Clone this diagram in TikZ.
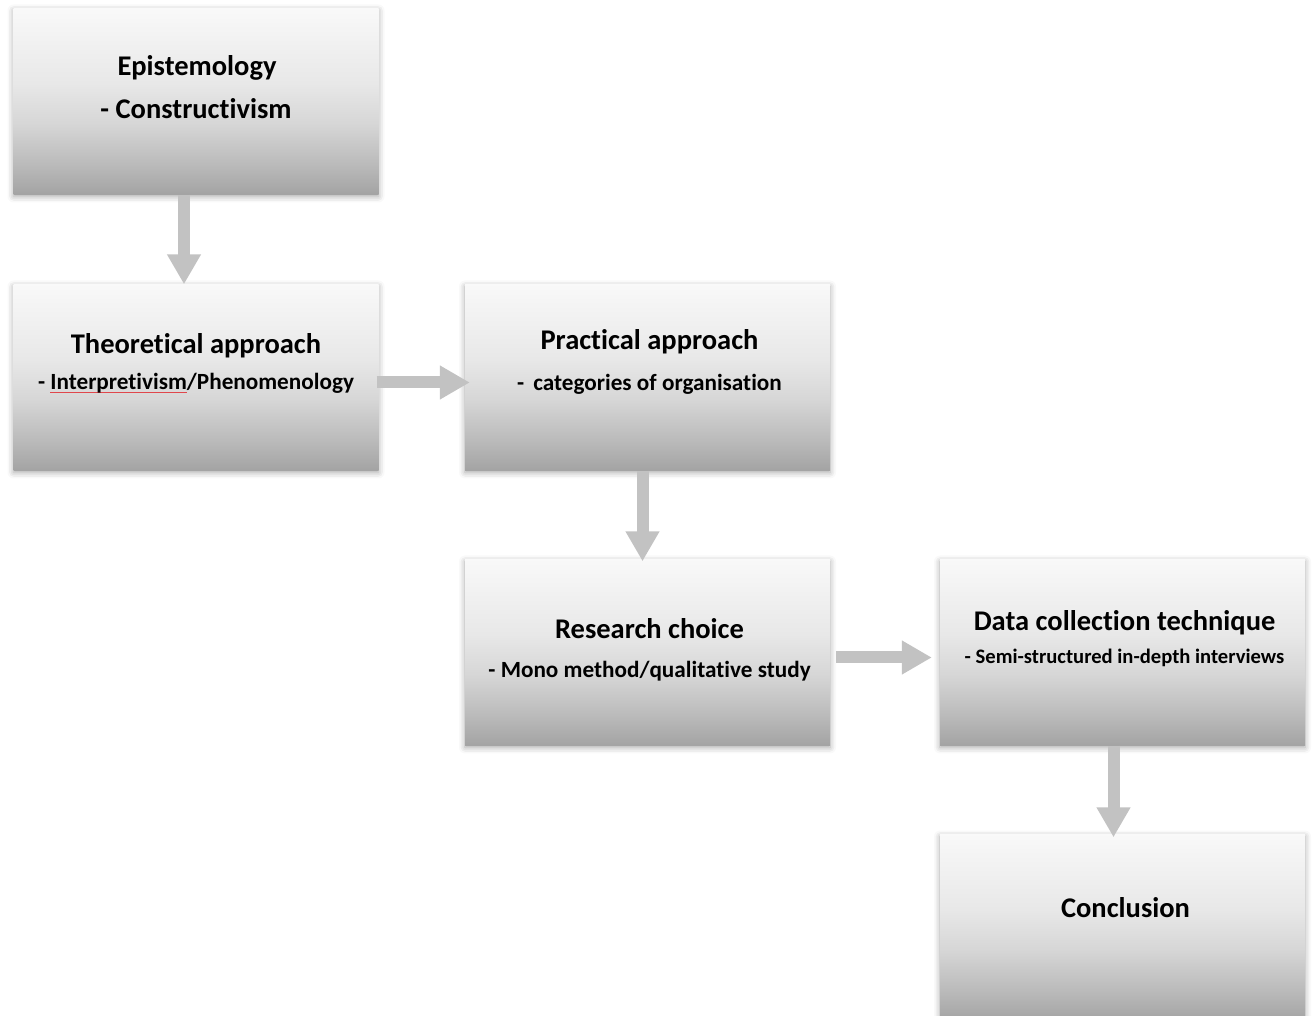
\documentclass[tikz,border=0pt]{standalone}
\usepackage{fontspec}
\setmainfont{Carlito}[Ligatures=NoCommon]
\usetikzlibrary{arrows.meta,shadows.blur,calc}

% vertical grey ramp for the boxes (path occupies 25bp..75bp)
\definecolor{gA}{gray}{0.64}
\definecolor{gB}{gray}{0.73}
\definecolor{gC}{gray}{0.84}
\definecolor{gD}{gray}{0.91}
\definecolor{gE}{gray}{0.975}
\pgfdeclareverticalshading{boxramp}{100bp}{%
  color(0bp)=(gA); color(25bp)=(gA); color(33bp)=(gB); color(44bp)=(gC);
  color(55bp)=(gD); color(75bp)=(gE); color(100bp)=(gE)}
\definecolor{arrowgrey}{HTML}{C2C2C2}
\definecolor{spellred}{HTML}{E0474C}

% red spell-check style underline
\newcommand\spellmark[1]{\setbox0\hbox{#1}\rlap{\raisebox{-4pt}{\textcolor{spellred}{\rule{\wd0}{1.1pt}}}}\box0}

\tikzset{
  stage/.style={rectangle, inner sep=0pt, minimum width=365pt, minimum height=186pt,
    shading=boxramp,
    blur shadow={shadow xshift=0pt, shadow yshift=-2pt, shadow blur radius=6pt, shadow opacity=35}},
  headline/.style={font=\bfseries\fontsize{28.5}{30}\selectfont, inner sep=0pt},
  subline/.style={font=\bfseries\fontsize{23.2}{26}\selectfont, inner sep=0pt},
  smallsub/.style={font=\bfseries\fontsize{20.6}{23}\selectfont, inner sep=0pt},
  flow/.style={draw=arrowgrey, line width=12pt,
    -{Triangle[width=32pt,length=30pt,color=arrowgrey]}},
}

\begin{document}
\begin{tikzpicture}[x=1pt,y=1pt]
\useasboundingbox (0,0) rectangle (1313,1015);

% boxes
\node[stage] (epi)  at (196,913.5)  {};
\node[stage] (theo) at (196,637.5)  {};
\node[stage] (prac) at (647.5,637.5) {};
\node[stage] (res)  at (647.5,362.5) {};
\node[stage] (data) at (1122.5,362.5) {};
\node[stage] (conc) at (1122.5,87.5) {};

% labels
\node[headline] (epiT) at ($(epi.north)+(1,-60)$) {Epistemology};
\node[headline] (epiS) at ($(epi.north)+(0,-100)$) {- Constructivism};

\node[headline] (theoT) at ($(theo.north)+(0,-61)$) {Theoretical approach};
\node[subline] (theoS) at ($(theo.north)+(0,-99)$) {- \spellmark{Interpretivism}/Phenomenology};

\node[headline] (pracT) at ($(prac.north)+(2,-57)$) {Practical approach};
\node[subline] (pracS) at ($(prac.north)+(2,-100)$) {-\, categories of organisation};

\node[headline] (resT) at ($(res.north)+(2,-69)$) {Research choice};
\node[subline] (resS) at ($(res.north)+(2,-112)$) {- Mono method/qualitative study};

\node[headline] (dataT) at ($(data.north)+(2,-63)$) {Data collection technique};
\node[smallsub] (dataS) at ($(data.north)+(2,-99)$) {- Semi-structured in-depth interviews};

\node[headline] (concT) at ($(conc.north)+(3,-73)$) {Conclusion};

% connectors
\draw[flow] ([xshift=-12pt]epi.south) -- ([xshift=-12pt]theo.north);
\draw[flow] ([yshift=-5pt,xshift=-2pt]theo.east) -- ([yshift=-5pt,xshift=5pt]prac.west);
\draw[flow] ([xshift=-5pt]prac.south) -- ([xshift=-5pt,yshift=-2pt]res.north);
\draw[flow] ([yshift=-5pt,xshift=6pt]res.east) -- ([yshift=-5pt,xshift=-8pt]data.west);
\draw[flow] ([xshift=-9pt]data.south) -- ([xshift=-9pt,yshift=-3pt]conc.north);
\end{tikzpicture}
\end{document}
